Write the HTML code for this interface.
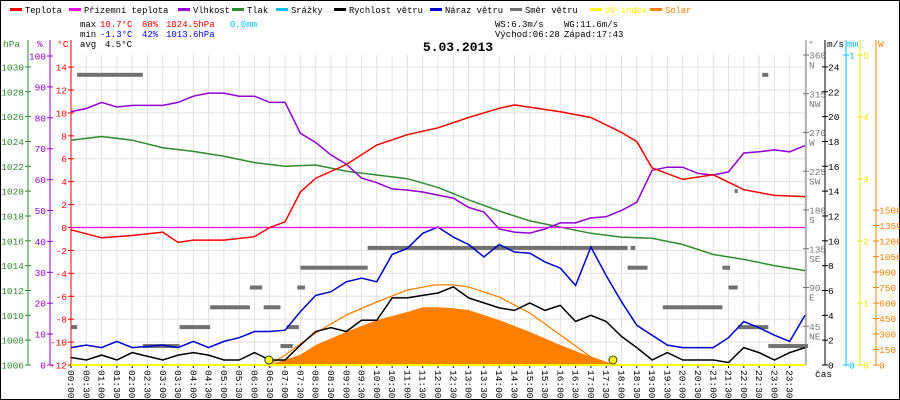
<!DOCTYPE html>
<html><head><meta charset="utf-8"><style>
body{margin:0;background:#fff}
svg{display:block;font-family:"Liberation Mono",monospace}
</style></head><body>
<svg id="c" width="900" height="400" viewBox="0 0 900 400">
<rect x="0.5" y="0.5" width="899" height="399" fill="#fff" stroke="#000"/>
<g id="grid"></g>
<g id="axes"></g>
<g id="series"></g>
<g id="legend" font-size="8.8"></g>
<g font-size="9">
<text x="80" y="27">max</text><text x="100" y="27" fill="#f00">10.7°C</text><text x="142" y="27" fill="#f00">88%</text><text x="166" y="27" fill="#f00">1024.5hPa</text><text x="230" y="27" fill="#00bfff">0.0mm</text>
<text x="80" y="37">min</text><text x="100" y="37" fill="#00f">-1.3°C</text><text x="142" y="37" fill="#00f">42%</text><text x="166" y="37" fill="#00f">1013.6hPa</text>
<text x="80" y="47">avg</text><text x="105" y="47">4.5°C</text>
<text x="495" y="27">WS:6.3m/s</text><text x="564" y="27">WG:11.6m/s</text>
<text x="495" y="37">Východ:06:28</text><text x="564" y="37">Západ:17:43</text>
</g>
<text x="458" y="51" font-size="13" font-weight="bold" text-anchor="middle">5.03.2013</text>
</svg>
<script>
// ---- data ----
const tempH=[0,1,2,3,3.5,4,5,6,6.5,7,7.5,8,9,10,11,12,13,14,14.5,15,16,17,18,18.5,19,20,21,22,23,24];
const tempV=[-0.2,-0.9,-0.7,-0.4,-1.3,-1.1,-1.1,-0.8,0,0.5,3.1,4.3,5.5,7.2,8.1,8.7,9.6,10.4,10.7,10.5,10.1,9.6,8.3,7.5,5.2,4.2,4.6,3.3,2.8,2.7];
const humH=[0,0.5,1,1.5,2,3,3.5,4,4.5,5,5.5,6,6.5,7,7.5,8,8.5,9,9.5,10,10.5,11,11.5,12,12.5,13,13.5,14,14.5,15,15.5,16,16.5,17,17.5,18,18.5,19,19.5,20,20.5,21,21.5,22,22.5,23,23.5,24];
const humV=[82,83,85,83.5,84,84,85,87,88,88,87,87,85,85,75,72,68,65,60.5,59,57,56.6,56,55,54,51,49.5,44,43,42.7,44,46,46,47.6,48,50,52.7,63,64,64,62,61.5,62.5,68.6,69,69.6,69,71];
const presH=[0,1,2,3,4,5,6,7,8,9,10,11,12,13,14,15,16,17,18,19,20,21,22,23,24];
const presV=[1024.1,1024.4,1024.1,1023.5,1023.2,1022.8,1022.3,1022.0,1022.1,1021.6,1021.3,1021.0,1020.3,1019.3,1018.4,1017.6,1017.1,1016.6,1016.3,1016.2,1015.7,1014.9,1014.5,1014.0,1013.6];
const appH=[0,24];
const appV=[0,0];
const windH=humH;
const windV=[0.6,0.4,0.8,0.4,1.0,0.4,0.8,1.0,0.8,0.4,0.4,1.0,0.4,0.4,1.6,2.7,3.0,2.7,3.6,3.6,5.4,5.4,5.6,5.8,6.3,5.4,5.0,4.6,4.4,5.0,4.4,4.8,3.5,4.0,3.5,2.3,1.4,0.4,1.0,0.4,0.4,0.4,0.2,1.4,1.0,0.4,1.0,1.4];
const gustV=[1.4,1.6,1.4,1.9,1.4,1.6,1.4,1.9,1.4,1.9,2.2,2.7,2.7,2.8,4.3,5.6,5.9,6.7,7.0,6.7,8.9,9.4,10.6,11.1,10.3,9.7,8.7,9.7,9.1,9.0,8.3,7.8,6.4,9.5,7.2,5.1,3.2,2.4,1.6,1.4,1.4,1.4,2.2,3.5,3.0,2.4,1.9,4.0];
const dirStart=[0.2,0,2.35,3.55,4.55,5.85,6.3,6.85,7.05,7.4,7.5,9.7,12.0,18.3,18.2,19.35,21.3,21.5,21.8,21.7,22.6,22.8];
const dirEnd=[2.35,0.2,3.55,4.55,5.85,6.25,6.85,7.25,7.45,7.65,9.7,12.0,18.2,18.45,18.85,21.3,21.55,21.8,22.8,21.8,22.8,24.1];
const dirDeg=[337,44,22,44,67,90,67,22,44,90,113,136,136,136,113,67,113,90,44,202,337,22];
const solH=[6.47,7,7.5,8,9,10,11,11.5,12,12.5,13,14,15,16,17,17.5,17.75];
const solV=[0,50,100,194,320,435,513,560,560,550,532,435,320,194,77,29,0];
const theoH=[6.47,7,8,9,10,11,11.9,12.5,13,14,15,16,17,17.72];
const theoV=[0,97,310,484,610,726,775,775,755,658,503,290,77,0];
const sunEvents=[6.47,17.72];
const hpaTicks=[1006,1008,1010,1012,1014,1016,1018,1020,1022,1024,1026,1028,1030];
const pctTicks=[0,10,20,30,40,50,60,70,80,90,100];
const tTicks=[-12,-10,-8,-6,-4,-2,0,2,4,6,8,10,12,14];
const degTicks=[45,90,135,180,225,270,315,360];
const degNames=["NE","E","SE","S","SW","W","NW","N"];
const msTicks=[0,2,4,6,8,10,12,14,16,18,20,22,24];
const uvTicks=[0,1,2,3,4,5];
const wTicks=[0,150,300,450,600,750,900,1050,1200,1350,1500];
// ---- scales ----
const X0=71,X1=805,YB=365;
const x=h=>X0+h*(X1-X0)/24;
const yT=v=>227.5-v*11.46;
const yP=v=>365-v*3.09;
const yH=v=>365-(v-1006)*12.42;
const yW=v=>365-v*12.42;
const yD=v=>365-v*310/360;
const yS=v=>365-v*0.1033;
const yU=v=>365-v*62;
const NS='http://www.w3.org/2000/svg';
function mk(p,t,a){const e=document.createElementNS(NS,t);for(const k in a)e.setAttribute(k,a[k]);p.appendChild(e);return e;}
const G=document.getElementById('grid'),A=document.getElementById('axes'),S=document.getElementById('series'),L=document.getElementById('legend');
for(let i=0;i<=48;i++){const l=mk(G,'line',{x1:x(i/2),x2:x(i/2),y1:55,y2:YB,stroke:'#e4e0e0'});

}
tTicks.forEach(v=>{const l=mk(G,'line',{x1:X0,x2:X1,y1:yT(v),y2:yT(v),stroke:'#e4e0e0'});

});
function axis(xp,col,ticks,yf,fmt,side,y0,name){
 const g=mk(A,'g',{fill:col,'font-size':'9.5'});
 
 
 mk(g,'line',{x1:xp,x2:xp,y1:y0,y2:YB,stroke:col});
 ticks.forEach((v,i)=>{const y=yf(v);
  mk(g,'line',{x1:xp-3,x2:xp+3,y1:y,y2:y,stroke:col});
  const t=mk(g,'text',{x:side<0?xp-4:xp+3,y:y+3.5,'text-anchor':side<0?'end':'start'});t.textContent=fmt(v,i);});
 return g;}
axis(28,'#2e8b2e',hpaTicks,yH,v=>v,-1,40,'hpa-axis');
axis(50,'#9400d3',pctTicks,yP,v=>v,-1,40,'humidity-axis');
axis(71,'#f00',tTicks,yT,v=>v,-1,40,'temperature-axis');
const gd=axis(806,'#777',degTicks,yD,v=>v,1,40,'direction-axis');
degTicks.forEach((v,i)=>{const t=mk(gd,'text',{x:809,y:yD(v)+13});t.textContent=degNames[i];});
axis(825,'#000',msTicks,yW,v=>v,1,40,'wind-axis');
axis(846,'#00bfff',[0,1],v=>v?55:365,v=>v,1,40,'rain-axis');
axis(860,'#e8e800',uvTicks,yU,v=>v,1,40,'uv-axis');
axis(876,'#ff8000',wTicks,yS,v=>v,1,40,'solar-axis');
[[3,'hPa','#2e8b2e'],[37,'%','#9400d3'],[57,'°C','#f00'],[808,'°','#777'],[827,'m/s','#000'],[847,'mm','#00bfff'],[878,'W','#ff8000']].forEach(([xx,s,c])=>{const t=mk(A,'text',{x:xx,y:47,fill:c,'font-size':'9.5'});t.textContent=s;

});
for(let i=0;i<48;i++){const h=Math.floor(i/2),m=i%2?'30':'00';const xx=x(i/2);
 mk(A,'line',{x1:xx,x2:xx,y1:YB,y2:YB+3,stroke:'#000'});
 const t=mk(A,'text',{x:0,y:0,'font-size':'9.5',transform:`translate(${xx-3},370) rotate(90)`});
 t.textContent=(h<10?'0':'')+h+':'+m;
 
 }
{const t=mk(A,'text',{x:815,y:377,'font-size':'9.5'});t.textContent='čas';

}
function path(hs,vs,yf){return hs.map((h,i)=>(i?'L':'M')+x(h).toFixed(1)+','+yf(vs[i]).toFixed(1)).join('');}
let e;
e=mk(S,'path',{d:path(solH,solV,yS)+`L${x(17.75)},${YB}L${x(6.47)},${YB}Z`,fill:'#ff8000'});


e=mk(S,'path',{d:path(theoH,theoV,yS),fill:'none',stroke:'#ff8000','stroke-width':1.3});


dirDeg.forEach((d,i)=>{const r=mk(S,'rect',{x:x(dirStart[i]),y:yD(d)-2,width:Math.max(3,x(dirEnd[i])-x(dirStart[i])),height:4,fill:'#707070'});

});
e=mk(S,'line',{x1:X0,x2:X1,y1:YB,y2:YB,stroke:'#ffff00','stroke-width':2});


e=mk(S,'path',{d:path(windH,gustV,yW),fill:'none',stroke:'#0000cd','stroke-width':1.5});


e=mk(S,'path',{d:path(windH,windV,yW),fill:'none',stroke:'#000','stroke-width':1.5});


e=mk(S,'path',{d:path(presH,presV,yH),fill:'none',stroke:'#2e8b2e','stroke-width':1.5});


e=mk(S,'path',{d:path(appH,appV,yT),fill:'none',stroke:'#ff00ff','stroke-width':1.2});


e=mk(S,'path',{d:path(humH,humV,yP),fill:'none',stroke:'#9400d3','stroke-width':1.5});


e=mk(S,'path',{d:path(tempH,tempV,yT),fill:'none',stroke:'#f00','stroke-width':1.5});


sunEvents.forEach(h=>{const c=mk(S,'circle',{cx:x(h),cy:360,r:4,fill:'#ffff00',stroke:'#333'});

});
[['Teplota','#f00',10],['Přízemní teplota','#ff00ff',69],['Vlhkost','#9400d3',178],['Tlak','#2e8b2e',232],['Srážky','#00bfff',276],['Rychlost větru','#000',334],['Náraz větru','#0000cd',430],['Směr větru','#707070',510],['UV index','#ffff00',590],['Solar','#ff8000',650]].forEach(([s,c,xx])=>{
 const g=mk(L,'g',{});
 
 
 mk(g,'rect',{x:xx,y:8,width:12,height:3,fill:c});
 const t=mk(g,'text',{x:xx+15,y:13,fill:(c=='#ffff00'||c=='#ff8000')?c:'#000'});t.textContent=s;});
</script>
</body></html>
